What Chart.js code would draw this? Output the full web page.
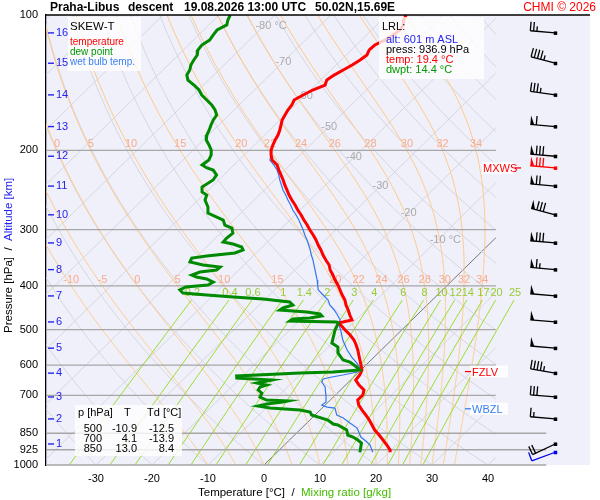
<!DOCTYPE html>
<html>
<head>
<meta charset="utf-8">
<script src="https://cdn.jsdelivr.net/npm/chart.js@4.4.1/dist/chart.umd.min.js"></script>
<style>
  html, body { margin: 0; padding: 0; background: #fff; }
</style>
</head>
<body>
<canvas id="skewt" width="600" height="500"></canvas>
<script>
// sounding values
const tempP = [100.0, 102.6, 105.2, 108.0, 110.8, 113.7, 116.6, 119.6, 122.7, 125.9, 129.2, 132.5, 136.0, 139.5, 143.1, 146.8, 150.6, 154.5, 158.5, 162.6, 166.8, 171.1, 175.5, 180.1, 184.8, 189.6, 194.5, 199.5, 204.7, 210.0, 215.4, 221.0, 226.7, 232.6, 238.6, 244.8, 251.2, 257.7, 264.4, 271.3, 278.3, 285.5, 292.9, 300.5, 308.3, 316.2, 324.4, 332.8, 341.5, 350.3, 359.4, 368.7, 378.3, 388.1, 398.1, 408.4, 419.0, 429.9, 441.0, 452.4, 464.2, 476.2, 483.5, 488.5, 501.2, 514.2, 527.5, 541.2, 555.2, 569.6, 584.4, 599.5, 615.1, 631.0, 647.4, 664.2, 681.4, 699.1, 717.2, 735.8, 754.9, 774.5, 794.3, 815.0, 836.2, 857.9, 880.1, 902.9, 926.4, 936.9];
const tempT = [-56.6, -56.1, -55.3, -54.9, -55.3, -55.8, -56.7, -56.8, -56.3, -56.6, -57.1, -57.8, -58.5, -58.9, -58.3, -59.6, -60.4, -61.1, -60.6, -60.4, -60.0, -59.6, -58.9, -58.2, -57.6, -57.2, -56.7, -56.1, -55.2, -54.1, -52.3, -51.1, -49.8, -48.5, -47.3, -46.0, -44.7, -43.3, -41.8, -40.4, -38.9, -37.5, -36.0, -34.6, -33.1, -31.7, -30.4, -29.0, -27.7, -26.3, -24.8, -23.7, -22.3, -21.0, -19.6, -18.3, -17.0, -15.6, -14.5, -13.2, -12.0, -10.7, -12.6, -11.8, -10.1, -8.3, -6.7, -5.4, -4.2, -3.1, -2.0, -0.9, 0.2, 0.7, 0.9, 2.4, 4.2, 4.9, 4.9, 6.0, 7.5, 9.1, 10.6, 12.0, 13.4, 15.1, 16.7, 18.3, 19.8, 20.2];

const dewP = [100.0, 102.6, 105.2, 108.0, 110.8, 113.7, 116.6, 119.6, 122.7, 125.9, 129.2, 132.5, 136.0, 139.5, 143.1, 146.8, 150.6, 154.5, 158.5, 162.6, 166.8, 171.1, 175.5, 180.1, 184.8, 189.6, 194.5, 199.5, 204.7, 210.0, 215.4, 218.7, 221.0, 226.7, 232.6, 241.1, 247.3, 251.2, 257.7, 267.1, 275.5, 281.2, 285.5, 292.9, 297.4, 305.2, 313.1, 319.5, 322.7, 327.7, 332.8, 338.0, 343.3, 346.8, 353.9, 359.4, 363.1, 368.7, 372.5, 378.3, 382.2, 386.1, 392.1, 398.1, 402.2, 408.4, 414.7, 419.0, 423.3, 427.7, 434.3, 441.0, 447.8, 452.4, 457.1, 461.8, 466.6, 471.3, 473.8, 478.7, 481.1, 483.5, 501.2, 522.1, 535.7, 546.8, 563.8, 584.4, 590.4, 605.7, 615.1, 621.4, 624.6, 634.2, 640.8, 647.4, 657.4, 664.2, 671.0, 681.4, 692.0, 706.3, 717.2, 720.9, 724.6, 732.1, 739.6, 747.2, 754.9, 762.7, 774.5, 794.3, 810.8, 815.0, 836.2, 857.9, 866.7, 880.1, 893.7, 936.9];
const dewT = [-88.0, -87.5, -86.8, -87.6, -87.4, -87.1, -87.6, -87.4, -86.6, -86.3, -85.9, -85.2, -84.8, -83.7, -81.7, -79.9, -78.5, -76.7, -74.9, -73.4, -72.2, -71.9, -71.4, -70.8, -70.3, -69.5, -68.1, -66.8, -65.9, -65.4, -65.7, -64.3, -62.8, -61.3, -61.0, -61.7, -60.8, -59.4, -58.8, -57.0, -55.9, -53.6, -51.9, -50.7, -48.9, -47.8, -48.0, -47.9, -45.8, -43.7, -42.9, -43.8, -48.3, -50.6, -50.2, -47.3, -43.9, -44.0, -46.6, -47.5, -46.3, -44.1, -42.4, -42.8, -46.4, -46.9, -45.8, -41.2, -36.1, -30.4, -25.1, -24.0, -25.2, -25.4, -20.2, -17.5, -16.8, -18.6, -21.4, -21.6, -13.1, -12.6, -11.9, -10.8, -10.1, -8.3, -7.2, -5.0, -3.4, -1.3, -0.2, -4.6, -10.3, -21.1, -20.7, -14.1, -16.2, -14.1, -14.9, -14.7, -13.5, -13.1, -11.4, -7.4, -8.1, -10.6, -11.8, -9.3, -3.6, -1.4, -0.6, 3.2, 4.9, 5.9, 8.4, 9.5, 10.8, 12.2, 13.4, 14.8];

const wetbulbP = [100.0, 102.6, 105.2, 108.0, 110.8, 113.7, 116.6, 119.6, 122.7, 125.9, 129.2, 132.5, 136.0, 139.5, 143.1, 146.8, 150.6, 154.5, 158.5, 162.6, 166.8, 171.1, 175.5, 180.1, 184.8, 189.6, 194.5, 199.5, 204.7, 210.0, 215.4, 221.0, 226.7, 232.6, 238.6, 244.8, 251.2, 257.7, 264.4, 271.3, 278.3, 285.5, 292.9, 300.5, 308.3, 316.2, 324.4, 332.8, 341.5, 350.3, 359.4, 368.7, 378.3, 388.1, 398.1, 408.4, 419.0, 429.9, 441.0, 452.4, 464.2, 476.2, 483.5, 501.2, 527.5, 555.2, 575.5, 593.4, 608.8, 621.4, 631.0, 637.5, 644.1, 654.1, 671.0, 706.3, 724.6, 735.8, 743.4, 747.2, 774.5, 786.2, 806.7, 827.7, 866.7, 889.2, 902.9, 936.9];
const wetbulbT = [-56.6, -56.1, -55.3, -54.9, -55.3, -55.8, -56.7, -56.8, -56.3, -56.6, -57.1, -57.8, -58.5, -58.9, -58.3, -59.6, -60.4, -61.1, -60.6, -60.4, -60.0, -59.6, -58.9, -58.2, -57.6, -57.2, -56.7, -56.1, -55.2, -54.5, -52.9, -51.4, -50.2, -49.1, -47.9, -46.7, -45.3, -44.0, -42.6, -41.3, -39.8, -38.4, -37.1, -35.8, -34.6, -33.3, -32.1, -30.9, -29.8, -28.6, -27.5, -26.4, -25.3, -24.2, -23.2, -22.2, -20.4, -18.6, -17.4, -15.7, -14.2, -12.8, -12.6, -10.9, -8.7, -6.1, -4.0, -2.0, -0.5, -0.3, -2.3, -3.9, -5.1, -4.8, -3.3, -1.3, -0.4, -0.6, 0.7, 2.3, 3.9, 5.6, 7.7, 9.9, 12.2, 14.2, 15.3, 17.1];

const pressureTicks = [100, 200, 300, 400, 500, 600, 700, 850, 925, 1000];
const temperatureTicks = [-30, -20, -10, 0, 10, 20, 30, 40];
const altitudeKm = [1, 2, 3, 4, 5, 6, 7, 8, 9, 10, 11, 12, 13, 14, 15, 16];
const altitudeP = [898, 790, 706, 625, 550, 481, 421, 368, 321, 278, 240, 206, 177, 150.5, 128, 109.6];

// winds: surface first, then the km levels
const windP = [936.9, 898, 790, 706, 625, 550, 481, 421, 368, 321, 278, 240, 206, 177, 150.5, 128, 109.6];
const windDir = [250, 245, 275, 275, 280, 275, 275, 275, 275, 275, 285, 275, 275, 275, 278, 285, 275];
const windSpd = [10, 20, 15, 30, 45, 50, 50, 50, 65, 80, 80, 70, 80, 60, 35, 45, 25];
const maxWindP = 218.7, maxWindDir = 275, maxWindSpd = 80;

const levelNames = ['MXWS', 'FZLV', 'WBZL'];
const levelP = [218.7, 620, 750];

const isothermLabels = [-80, -70, -60, -50, -40, -30, -20, -10];
const isothermLabelP = [106, 127, 151, 177, 207, 240, 276, 316];
const moistLines = [-10, -5, 0, 5, 10, 15, 20, 22, 24, 26, 28, 30, 32, 34];
const mixingRatios = [0.2, 0.4, 0.6, 1, 1.4, 2, 3, 4, 6, 8, 10, 12, 14, 17, 20, 25];

const tableRows = [['500', '-10.9', '-12.5'], ['700', '4.1', '-13.9'], ['850', '13.0', '8.4']];

const FONT = '"Liberation Sans", Arial, sans-serif';
const SKEW = 81.96; // degrees of x shift per decade of pressure
const skewX = (t, p) => t + SKEW * Math.log10(1000 / p);
const EDGE_T = 41.4;

Chart.defaults.font.family = FONT;

function moistAdiabat(thw) {
  const lapse = (T, p) => {
    const tc = T - 273.15;
    const es = 6.112 * Math.exp(17.67 * tc / (tc + 243.5));
    const rs = 0.622 * es / (p - es);
    return (287.04 * T + 2.501e6 * rs) / (p * (1005.7 + 2.501e6 * 2.501e6 * rs * 0.622 / (287.04 * T * T)));
  };
  const pts = [];
  let T = thw + 273.15;
  for (let p = 1000; p >= 100; p -= 2) {
    pts.push([p, T - 273.15]);
    const k1 = lapse(T, p);
    const k2 = lapse(T - 2 * k1, p - 2);
    T -= (k1 + k2);
  }
  return pts;
}

function polyline(ctx, pts, color, width) {
  ctx.strokeStyle = color;
  ctx.lineWidth = width;
  ctx.beginPath();
  pts.forEach(([x, y], i) => (i ? ctx.lineTo(x, y) : ctx.moveTo(x, y)));
  ctx.stroke();
}

function drawBarb(ctx, x0, y0, dir, spd, color) {
  const r = dir * Math.PI / 180;
  const ux = Math.sin(r), uy = -Math.cos(r);
  const fx = Math.cos(r), fy = Math.sin(r);
  const L = 25;
  ctx.strokeStyle = color;
  ctx.fillStyle = color;
  ctx.lineWidth = 1.3;
  ctx.beginPath();
  ctx.moveTo(x0, y0);
  ctx.lineTo(x0 + ux * L, y0 + uy * L);
  ctx.stroke();
  ctx.fillRect(x0 - 1.5, y0 - 1.5, 3.5, 3.5);
  let s = Math.round(spd / 5) * 5;
  let d = L;
  const at = dd => [x0 + ux * dd, y0 + uy * dd];
  while (s >= 50) {
    const [ax, ay] = at(d), [bx, by] = at(d - 4);
    ctx.beginPath();
    ctx.moveTo(ax, ay);
    ctx.lineTo(ax + fx * 9, ay + fy * 9);
    ctx.lineTo(bx, by);
    ctx.closePath();
    ctx.fill();
    d -= 6;
    s -= 50;
  }
  while (s >= 10) {
    const [ax, ay] = at(d);
    ctx.beginPath();
    ctx.moveTo(ax, ay);
    ctx.lineTo(ax + fx * 9, ay + fy * 9);
    ctx.stroke();
    d -= 3.3;
    s -= 10;
  }
  if (s >= 5) {
    if (d === L) d -= 3.3;
    const [ax, ay] = at(d);
    ctx.beginPath();
    ctx.moveTo(ax, ay);
    ctx.lineTo(ax + fx * 5, ay + fy * 5);
    ctx.stroke();
  }
}

const diagram = {
  id: 'diagram',
  beforeDraw(chart) {
    const { ctx, chartArea: a } = chart;
    ctx.save();
    ctx.fillStyle = '#fff';
    ctx.fillRect(0, 0, chart.width, chart.height);
    ctx.fillStyle = '#f0f0fb';
    ctx.fillRect(a.left, a.top, a.right - a.left, a.bottom - a.top);
    ctx.restore();
  },
  beforeDatasetsDraw(chart) {
    const { ctx, chartArea: a, scales: { x, y } } = chart;
    const px = (t, p) => x.getPixelForValue(skewX(t, p));
    const py = p => y.getPixelForValue(p);
    const edge = x.getPixelForValue(EDGE_T);
    ctx.save();
    ctx.beginPath();
    ctx.rect(a.left, a.top, edge - a.left, a.bottom - a.top);
    ctx.clip();
    // isotherms
    for (let t = -130; t <= 40; t += 10) {
      polyline(ctx, [[px(t, 1000), py(1000)], [px(t, 100), py(100)]], t === 0 ? '#777' : '#d6d6de', 1);
    }
    // dry adiabats
    for (let th = -40; th <= 260; th += 10) {
      const pts = [];
      for (let p = 1000; p >= 100; p -= 10) {
        pts.push([px((th + 273.15) * Math.pow(p / 1000, 0.2857) - 273.15, p), py(p)]);
      }
      polyline(ctx, pts, '#d6d6de', 1);
    }
    // moist adiabats
    const moist = moistLines.map(moistAdiabat);
    moist.forEach(c => polyline(ctx, c.map(([p, t]) => [px(t, p), py(p)]), '#ffc984', 1));
    ctx.restore();

    // mixing ratio lines
    ctx.save();
    ctx.beginPath();
    ctx.rect(a.left, a.top, a.right - a.left, a.bottom - a.top);
    ctx.clip();
    const mixTd = (r, p) => {
      const l = Math.log(p * r / (622 + r) / 6.112);
      return 243.5 * l / (17.67 - l);
    };
    ctx.font = '11px ' + FONT;
    ctx.textAlign = 'center';
    ctx.textBaseline = 'middle';
    mixingRatios.forEach(r => {
      const pts = [];
      for (let p = 1000; p >= 430; p -= 10) pts.push([px(mixTd(r, p), p), py(p)]);
      polyline(ctx, pts, '#9bdc28', 1);
      ctx.fillStyle = '#99cc33';
      ctx.fillText(String(r), px(mixTd(r, 430), 430) + 1, py(430) - 7);
    });
    ctx.restore();

    // pressure lines
    ctx.save();
    pressureTicks.slice(1).forEach(p => {
      const xr = x.getPixelForValue(p >= 850 ? 50.4 : EDGE_T);
      polyline(ctx, [[a.left, py(p)], [xr, py(p)]], '#a6a6a6', 1.3);
    });
    // labels
    ctx.font = '11px ' + FONT;
    ctx.textBaseline = 'middle';
    ctx.fillStyle = '#ababab';
    isothermLabels.forEach((t, i) => {
      const p = isothermLabelP[i];
      const s = String(t);
      const w = ctx.measureText(s).width;
      ctx.textAlign = 'left';
      ctx.fillText((t === -80 || t === -10) ? s + ' °C' : s, px(t, p) - w / 2, py(p));
    });
    ctx.fillStyle = '#f9ab8c';
    ctx.textAlign = 'center';
    moistLines.forEach((thw, i) => {
      [[200, 6], [400, 6]].forEach(([p, off]) => {
        const t = moist[i][(1000 - p) / 2][1];
        const xx = px(t, p);
        if (xx > a.left + 4 && xx < edge - 4) ctx.fillText(String(thw), xx, py(p) - off);
      });
    });
    ctx.restore();
  },
  afterDatasetsDraw(chart) {
    const { ctx, chartArea: a, scales: { x, y } } = chart;
    const py = p => y.getPixelForValue(p);
    ctx.save();
    // top border
    polyline(ctx, [[a.left, a.top], [a.right, a.top]], '#000', 1.3);

    // altitude ticks
    ctx.font = '11px ' + FONT;
    ctx.textBaseline = 'middle';
    ctx.textAlign = 'left';
    altitudeKm.forEach((km, i) => {
      const yy = py(altitudeP[i]);
      polyline(ctx, [[a.left + 2, yy], [a.left + 8, yy]], '#2323ee', 1.4);
      ctx.fillStyle = '#2323ee';
      ctx.fillText(String(km), a.left + 10, yy);
    });

    // info boxes
    ctx.fillStyle = 'rgba(255,255,255,0.8)';
    ctx.fillRect(68, 17, 73, 54);
    ctx.fillRect(379, 17, 105, 62);
    ctx.fillRect(75, 405, 107, 51);

    ctx.textAlign = 'left';
    ctx.font = '11.5px ' + FONT;
    ctx.fillStyle = '#000';
    ctx.fillText('SKEW-T', 70, 27);
    ctx.font = '10px ' + FONT;
    ctx.fillStyle = '#ff0000'; ctx.fillText('temperature', 70, 42);
    ctx.fillStyle = '#009900'; ctx.fillText('dew point', 70, 52);
    ctx.fillStyle = '#3a80f0'; ctx.fillText('wet bulb temp.', 70, 62);

    ctx.font = '11px ' + FONT;
    ctx.fillStyle = '#000'; ctx.fillText('LRL:', 382, 27);
    ctx.fillStyle = '#2323ee'; ctx.fillText('alt: 601 m ASL', 386, 40);
    ctx.fillStyle = '#000'; ctx.fillText('press: 936.9 hPa', 386, 50);
    ctx.fillStyle = '#ff0000'; ctx.fillText('temp: 19.4 °C', 386, 60);
    ctx.fillStyle = '#009900'; ctx.fillText('dwpt: 14.4 °C', 386, 70);

    ctx.fillStyle = '#000';
    ctx.fillText('p [hPa]', 78, 413);
    ctx.fillText('T', 124, 413);
    ctx.fillText('Td [°C]', 147, 413);
    ctx.textAlign = 'right';
    tableRows.forEach((row, i) => {
      const yy = 429 + i * 10;
      ctx.fillText(row[0], 102, yy);
      ctx.fillText(row[1], 137, yy);
      ctx.fillText(row[2], 174, yy);
    });

    // level markers
    const levelColors = ['#ff0000', '#ff0000', '#3a80f0'];
    levelNames.forEach((name, i) => {
      const yy = py(levelP[i]);
      ctx.font = '11px ' + FONT;
      ctx.fillStyle = 'rgba(255,255,255,0.85)';
      if (i === 0) {
        ctx.fillRect(482, yy - 6, 31, 12);
        ctx.fillStyle = levelColors[i];
        ctx.textAlign = 'left';
        ctx.fillText(name, 483, yy + 1);
        polyline(ctx, [[515, yy], [521, yy]], levelColors[i], 1.3);
      } else {
        ctx.fillRect(470, yy - 6, 38, 12);
        polyline(ctx, [[465, yy], [471, yy]], levelColors[i], 1.3);
        ctx.fillStyle = levelColors[i];
        ctx.textAlign = 'left';
        ctx.fillText(name, 472, yy + 1);
      }
    });

    // wind barbs
    const bx = x.getPixelForValue(52);
    windP.forEach((p, i) => {
      drawBarb(ctx, bx, py(p), windDir[i], windSpd[i], i === 0 ? '#0000ee' : '#000');
    });
    drawBarb(ctx, bx, py(maxWindP), maxWindDir, maxWindSpd, '#ff0000');

    // titles
    ctx.textAlign = 'left';
    ctx.textBaseline = 'middle';
    ctx.font = 'bold 12px ' + FONT;
    ctx.fillStyle = '#000';
    [['Praha-Libus', 50], ['descent', 128], ['19.08.2026 13:00 UTC', 184], ['50.02N,15.69E', 315]]
      .forEach(([s, xx]) => ctx.fillText(s, xx, 8));
    ctx.font = '12px ' + FONT;
    ctx.fillStyle = '#ff0000';
    ctx.textAlign = 'right';
    ctx.fillText('CHMI © 2026', 596, 8);

    // axis titles
    ctx.textAlign = 'left';
    ctx.font = '11.5px ' + FONT;
    let xx = 198;
    [['Temperature [°C]', '#000'], ['  /  ', '#000'], ['Mixing ratio [g/kg]', '#44bb00']].forEach(([s, c]) => {
      ctx.fillStyle = c;
      ctx.fillText(s, xx, 493);
      xx += ctx.measureText(s).width;
    });
    ctx.translate(9, 333);
    ctx.rotate(-Math.PI / 2);
    xx = 0;
    [['Pressure [hPa]', '#000'], ['  /  ', '#000'], ['Altitude [km]', '#2323ee']].forEach(([s, c]) => {
      ctx.fillStyle = c;
      ctx.fillText(s, xx, 0);
      xx += ctx.measureText(s).width;
    });
    ctx.restore();
  }
};

const series = (ps, ts) => ps.map((p, i) => ({ x: skewX(ts[i], p), y: p }));

new Chart(document.getElementById('skewt'), {
  type: 'scatter',
  data: {
    datasets: [
      {
        label: 'temperature',
        data: series(tempP, tempT),
        showLine: true,
        borderColor: '#ff0000',
        borderWidth: 3,
        pointRadius: 0,
        order: 1,
      },
      {
        label: 'dew point',
        data: series(dewP, dewT),
        showLine: true,
        borderColor: '#008a00',
        borderWidth: 3,
        pointRadius: 0,
        order: 0,
      },
      {
        label: 'wet bulb temp.',
        data: series(wetbulbP, wetbulbT),
        showLine: true,
        borderColor: '#3377ee',
        borderWidth: 1.2,
        pointRadius: 0,
        order: 2,
      },
    ],
  },
  options: {
    responsive: false,
    animation: false,
    events: [],
    layout: { padding: { top: 15, right: 10, left: 0, bottom: 0 } },
    scales: {
      x: {
        type: 'linear',
        min: -38.93,
        max: 58.21,
        afterBuildTicks: (s) => { s.ticks = temperatureTicks.map((v) => ({ value: v })); },
        afterFit: (s) => { s.height = 35; },
        grid: { display: false, drawTicks: false },
        border: { display: false },
        ticks: { color: '#000', font: { size: 11 }, padding: 7, maxRotation: 0 },
      },
      y: {
        type: 'logarithmic',
        reverse: true,
        min: 100,
        max: 1000,
        afterBuildTicks: (s) => { s.ticks = pressureTicks.map((v) => ({ value: v })); },
        afterFit: (s) => { s.width = 46; },
        grid: { display: false, drawTicks: false },
        border: { display: true, color: '#000', width: 1.3 },
        ticks: { color: '#000', font: { size: 11 }, padding: 8, callback: (v) => String(v) },
      },
    },
    plugins: {
      legend: { display: false },
      tooltip: { enabled: false },
    },
  },
  plugins: [diagram],
});
</script>
</body>
</html>
